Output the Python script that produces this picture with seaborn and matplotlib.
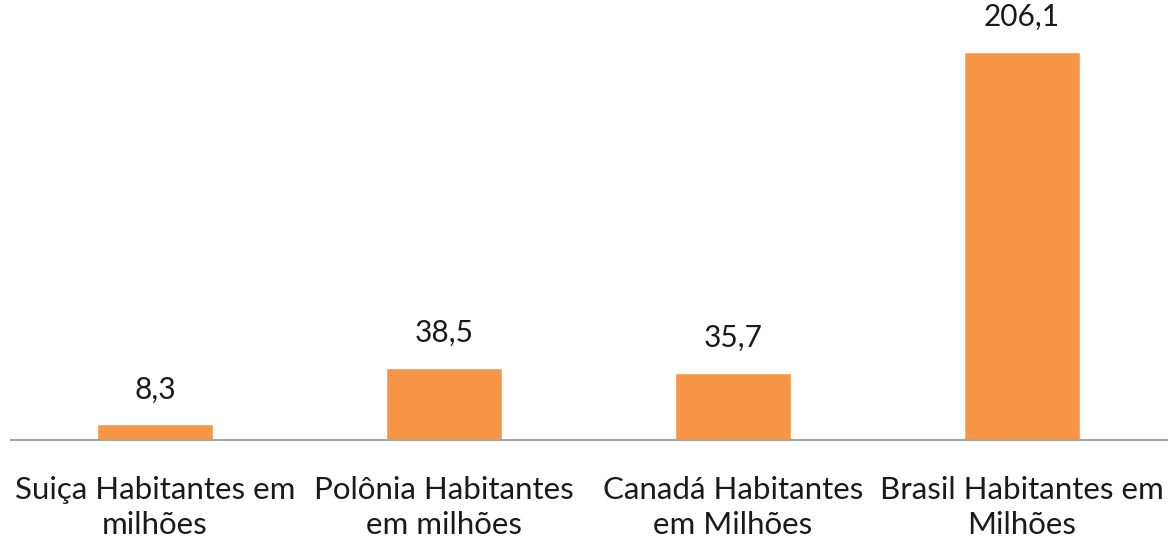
import matplotlib
matplotlib.use("Agg")
import matplotlib.pyplot as plt
import seaborn as sns
import pandas as pd

# data
categories = ["Suiça Habitantes em\nmilhões", "Polônia Habitantes\nem milhões",
              "Canadá Habitantes\nem Milhões", "Brasil Habitantes em\nMilhões"]
values = [8.3, 38.5, 35.7, 206.1]
value_labels = ["8,3", "38,5", "35,7", "206,1"]

df = pd.DataFrame({"pais": categories, "habitantes": values})

sns.set_style("white")
plt.rcParams["font.family"] = ["Lato", "DejaVu Sans"]

fig = plt.figure(figsize=(11.71, 5.41), dpi=100)
ax = fig.add_axes([10.5 / 1171, 1 - 440 / 541, 1156 / 1171, 440 / 541])

sns.barplot(data=df, x="pais", y="habitantes", color="#F79646", width=0.4,
            saturation=1, ax=ax)

for i, (v, lab) in enumerate(zip(values, value_labels)):
    ax.text(i, v + 11, lab, ha="center", va="bottom", fontsize=21.5, color="#1a1a1a")

ax.set_xlim(-0.5, 3.5)
ax.set_ylim(0, 233.7)
ax.set_xlabel("")
ax.set_ylabel("")
ax.set_yticks([])
ax.tick_params(axis="x", length=0, pad=26, labelsize=22.5, labelcolor="#1a1a1a")
for t in ax.get_xticklabels():
    t.set_linespacing(1.3)
for s in ["top", "left", "right"]:
    ax.spines[s].set_visible(False)
ax.spines["bottom"].set_color("#A6A6A6")
ax.spines["bottom"].set_linewidth(1.5)

fig.savefig("out.png", dpi=100)
